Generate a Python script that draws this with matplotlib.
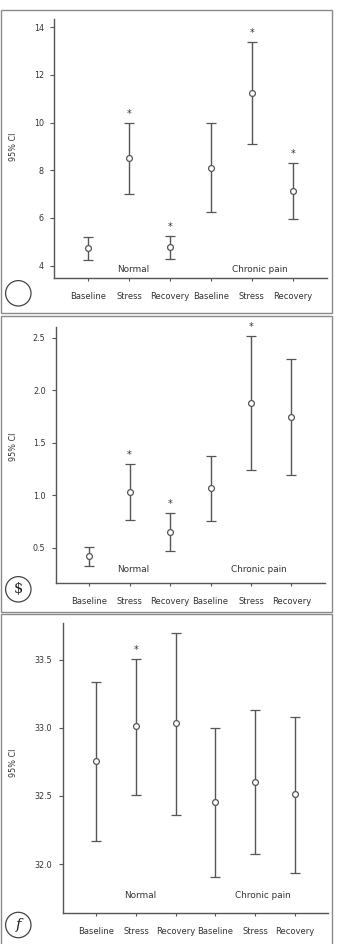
import numpy as np
import matplotlib
matplotlib.use("Agg")
import matplotlib.pyplot as plt
from matplotlib.patches import Circle, Rectangle
import matplotlib.transforms as mtransforms

# categories
conditions = ["Baseline", "Stress", "Recovery", "Baseline", "Stress", "Recovery"]
groups = ["Normal", "Chronic pain"]

# panel 1 (means and 95% CI bounds)
p1_mean = [4.73, 8.50, 4.77, 8.11, 11.25, 7.13]
p1_low = [4.24, 7.01, 4.29, 6.25, 9.09, 5.95]
p1_high = [5.19, 9.99, 5.26, 9.97, 13.38, 8.30]
p1_star = [False, True, True, False, True, True]
p1_ticks = [4, 6, 8, 10, 12, 14]
p1_ticklabels = ["4", "6", "8", "10", "12", "14"]

# panel 2
p2_mean = [0.42, 1.033, 0.652, 1.065, 1.881, 1.744]
p2_low = [0.325, 0.76, 0.465, 0.754, 1.24, 1.192]
p2_high = [0.51, 1.30, 0.833, 1.376, 2.519, 2.294]
p2_star = [False, True, True, False, True, False]
p2_ticks = [0.5, 1.0, 1.5, 2.0, 2.5]
p2_ticklabels = ["0.5", "1.0", "1.5", "2.0", "2.5"]

# panel 3
p3_mean = [32.756, 33.011, 33.033, 32.455, 32.602, 32.511]
p3_low = [32.171, 32.506, 32.362, 31.902, 32.076, 31.934]
p3_high = [33.334, 33.507, 33.698, 33.001, 33.130, 33.077]
p3_star = [False, True, False, False, False, False]
p3_ticks = [32.0, 32.5, 33.0, 33.5]
p3_ticklabels = ["32.0", "32.5", "33.0", "33.5"]

W, H = 339, 944
fig = plt.figure(figsize=(W / 100, H / 100), dpi=100)
fig.patch.set_facecolor("white")

line_col = "#555555"
text_col = "#333333"


def px_axes(left, right, top, bottom):
    return fig.add_axes([left / W, (H - bottom) / H, (right - left) / W, (bottom - top) / H])


panels = [
    dict(box=(1, 332, 10, 313), ax=(54.3, 327, 19, 278), ylim=(3.48, 14.35), xlim=(-0.83, 5.84),
         mean=p1_mean, low=p1_low, high=p1_high, star=p1_star,
         ticks=p1_ticks, ticklabels=p1_ticklabels, grp_y=0.031, ylab=146.7, badge=(18.3, 293.3), sym=""),
    dict(box=(1, 332, 316, 612), ax=(56, 325, 327.3, 582.7), ylim=(0.167, 2.599), xlim=(-0.82, 5.83),
         mean=p2_mean, low=p2_low, high=p2_high, star=p2_star,
         ticks=p2_ticks, ticklabels=p2_ticklabels, grp_y=0.05, ylab=446.7, badge=(18.3, 589.3), sym="\\$"),
    dict(box=(1, 332, 614, 950), ax=(62.7, 328.3, 623.3, 912.7), ylim=(31.643, 33.767), xlim=(-0.85, 5.85),
         mean=p3_mean, low=p3_low, high=p3_high, star=p3_star,
         ticks=p3_ticks, ticklabels=p3_ticklabels, grp_y=0.058, ylab=763.3, badge=(18.3, 925.0), sym="f"),
]

for p in panels:
    # light frame round each panel
    bx0, bx1, by0, by1 = p["box"]
    fig.add_artist(Rectangle((bx0 / 100, (H - by1) / 100), (bx1 - bx0) / 100, (by1 - by0) / 100,
                             transform=fig.dpi_scale_trans, fill=False, edgecolor="#8a8a8a", lw=1.0))

    ax = px_axes(*p["ax"])
    x = np.arange(len(conditions))
    mean = np.array(p["mean"])
    low = np.array(p["low"])
    high = np.array(p["high"])
    ax.errorbar(x, mean, yerr=[mean - low, high - mean], fmt="o", color=line_col, ecolor=line_col,
                elinewidth=1.0, capsize=3.6, capthick=1.0, markersize=4.2,
                markerfacecolor="white", markeredgecolor=line_col, markeredgewidth=0.9)
    for xi, hi, s in zip(x, high, p["star"]):
        if s:
            ax.annotate("*", (xi, hi), xytext=(0, 6.5), textcoords="offset points",
                        ha="center", va="center", fontsize=7, color=text_col)

    ax.set_xlim(*p["xlim"])
    ax.set_ylim(*p["ylim"])
    ax.set_xticks(x)
    ax.set_xticklabels(conditions, fontsize=6, color=text_col)
    ax.set_yticks(p["ticks"])
    ax.set_yticklabels(p["ticklabels"], fontsize=5.8, color=text_col)
    ax.tick_params(axis="x", length=2.2, width=0.8, color=line_col, pad=8)
    ax.tick_params(axis="y", length=3.0, width=0.8, color=line_col, pad=4.5)
    for side in ["top", "right"]:
        ax.spines[side].set_visible(False)
    for side in ["left", "bottom"]:
        ax.spines[side].set_color(line_col)
        ax.spines[side].set_linewidth(1.0)

    trans = mtransforms.blended_transform_factory(ax.transData, ax.transAxes)
    ax.text(1.1, p["grp_y"], groups[0], transform=trans, ha="center", va="center",
            fontsize=6.4, color=text_col)
    ax.text(4.2, p["grp_y"], groups[1], transform=trans, ha="center", va="center",
            fontsize=6.4, color=text_col)

    fig.text(13.3 / W, (H - p["ylab"]) / H, "95% CI", rotation=90, ha="center", va="center",
             fontsize=5.8, color=text_col)

    cx, cy = p["badge"]
    fig.add_artist(Circle((cx / 100, (H - cy) / 100), 12.7 / 100, transform=fig.dpi_scale_trans,
                          fill=False, edgecolor="#444444", lw=0.9))
    if p["sym"]:
        style = "italic" if p["sym"] == "f" else "normal"
        fig.text(cx / W, (H - cy) / H, p["sym"], ha="center", va="center", fontsize=10.5,
                 family="DejaVu Serif", style=style, color="#222222")

fig.savefig("out.png", dpi=100)
